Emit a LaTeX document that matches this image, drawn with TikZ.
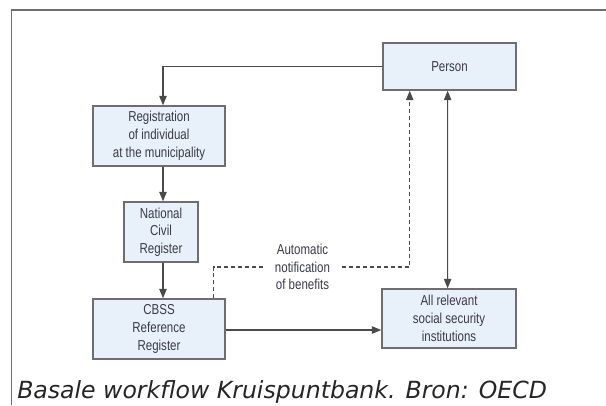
\documentclass[tikz,border=0pt]{standalone}
\usepackage{fontspec}
\setmainfont{Liberation Sans}
\newfontfamily\narrowfont[FakeStretch=0.80]{Liberation Sans}
\newfontfamily\capfont{DejaVu Sans}
\usetikzlibrary{arrows.meta,positioning}
\definecolor{boxfill}{HTML}{E8F0FA}
\definecolor{boxline}{HTML}{6E6E6E}
\definecolor{txt}{HTML}{3A3A48}
\definecolor{lnc}{HTML}{4A4A4A}
\tikzset{
  box/.style={draw=boxline, line width=1.1pt, fill=boxfill, inner sep=0pt,
    align=center, font=\narrowfont\fontsize{10.8}{13.3}\selectfont, text=txt},
  conn/.style={draw=lnc, line width=0.9pt, -{Triangle[length=7pt,width=5.5pt]}},
  dconn/.style={draw=lnc, line width=0.9pt, {Triangle[length=7pt,width=5.5pt]}-{Triangle[length=7pt,width=5.5pt]}},
  dashconn/.style={draw=lnc, line width=0.9pt, dashed, dash pattern=on 3pt off 2.2pt, -{Triangle[length=7pt,width=5.5pt]}},
  frameline/.style={draw=boxline, line width=0.8pt}
}
\begin{document}
\begin{tikzpicture}[x=0.75pt,y=-0.75pt]
\useasboundingbox (0,0) rectangle (606,405);
\draw[frameline] (11.6,405) -- (11.6,10) -- (606,10);
\node[box, minimum width=99.75pt, minimum height=35.25pt] (person) at (449.5,66.5) {Person};
\node[box, minimum width=99pt, minimum height=45pt] (reg) at (159,136) {Registration\\of individual\\at the municipality};
\node[box, minimum width=55.5pt, minimum height=45pt] (ncr) at (161,232) {National\\Civil\\Register};
\node[box, minimum width=99pt, minimum height=45pt] (cbss) at (159,329) {CBSS\\Reference\\Register};
\node[box, minimum width=100.5pt, minimum height=44.25pt] (all) at (449,318.5) {All relevant\\social security\\institutions};
\node[align=center, inner sep=0pt, minimum width=59pt, font=\narrowfont\fontsize{10.8}{13.3}\selectfont, text=txt] (notif) at (302.5,267) {Automatic\\notification\\of benefits};
\draw[conn] (person.west) -| ([xshift=3pt]reg.north);
\draw[conn] ([xshift=3pt]reg.south) -- ([xshift=3pt]reg.south |- ncr.north);
\draw[conn] ([xshift=3pt]reg.south |- ncr.south) -- ([xshift=3pt]cbss.north);
\draw[conn] (cbss.east |- 0,330) -- (all.west |- 0,330);
\draw[dconn] ([xshift=-1.4pt]person.south) -- ([xshift=-1.05pt]all.north);
\draw[dashconn, -] ([xshift=-9pt]cbss.north east) |- (notif.west);
\draw[dashconn] (notif.east) -| ([xshift=20.6pt]person.south west);
\node[anchor=base west, inner sep=0pt, font=\capfont\itshape\fontsize{17.7}{20}\selectfont, text=black!85] (cap) at (17,398.5) {Basale workflow Kruispuntbank. Bron: OECD};
\end{tikzpicture}
\end{document}
